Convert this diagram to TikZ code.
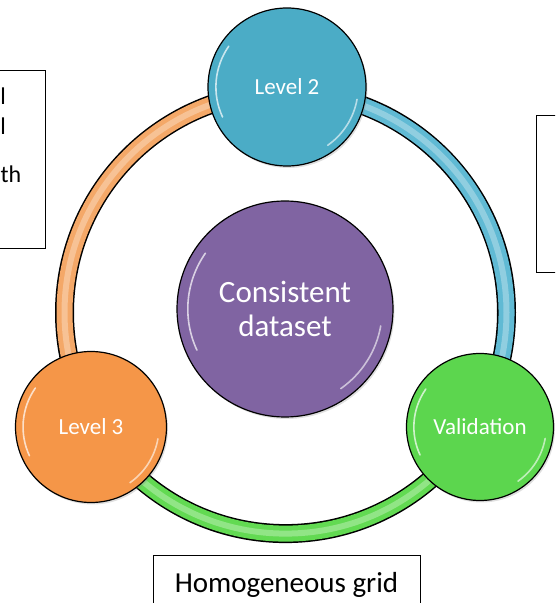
\documentclass[tikz,border=0pt]{standalone}
\usepackage{fontspec}
\setmainfont{Carlito}
\usetikzlibrary{shadows}

\definecolor{lvltwo}{RGB}{75,172,198}
\definecolor{lvlthree}{RGB}{245,150,72}
\definecolor{valid}{RGB}{92,214,78}
\definecolor{hubpurple}{RGB}{128,100,162}
\definecolor{ringblue}{RGB}{96,186,212}
\definecolor{ringorange}{RGB}{244,168,104}
\definecolor{ringgreen}{RGB}{98,218,82}

\tikzset{
  bubble/.style={circle,draw=black,line width=1.2pt,text=white,inner sep=0pt,
    drop shadow={opacity=.25,shadow xshift=1.5pt,shadow yshift=-2pt}},
  notebox/.style={draw=black,line width=1pt,fill=white,inner sep=0pt},
  notetext/.style={anchor=base east,inner sep=0pt,font=\fontsize{24}{28}\selectfont},
  ringpart/.style={line width=16pt},
  shine/.style={white,opacity=.3,line width=6pt},
}

% white glints on a bubble: #1 node, #2 radius
\newcommand\gloss[2]{%
  \draw[white,opacity=.7,line width=1.6pt,line cap=round]
    ([shift={(145:#2*.9)}]#1.center) arc (145:205:#2*.9);
  \draw[white,opacity=.6,line width=1.6pt,line cap=round]
    ([shift={(-10:#2*.9)}]#1.center) arc (-10:-55:#2*.9);
}

\begin{document}
\begin{tikzpicture}[x=1pt,y=1pt]
    \useasboundingbox (0,0) rectangle (555,603);
    \clip (0,0) rectangle (555,603);

    % side notes, partly outside the page
    \node[notebox,anchor=north east,minimum width=200,minimum height=178] (leftnote) at (46,533) {};
    \node[notebox,anchor=north west,minimum width=200,minimum height=157] (rightnote) at (536,488) {};
    \node[notebox,anchor=north west,minimum width=267,minimum height=90] (gridnote) at (153,48) {};
    \node[notetext] (noteA) at (6,498) {l};
    \node[notetext] (noteB) at (6,468) {l};
    \node[notetext,anchor=base west] (noteC) at (0.5,420) {th};
    \node[anchor=base,font=\fontsize{29}{33}\selectfont] (gridtext) at (286.5,10) {Homogeneous grid};

    % the ring
    \coordinate (hub) at (285.5,290.4);
    \draw[line width=19pt] (hub) circle (221);
    \draw[ringpart,ringorange] ([shift={(90:221)}]hub) arc (90:210:221);
    \draw[ringpart,ringgreen] ([shift={(210:221)}]hub) arc (210:330:221);
    \draw[ringpart,ringblue] ([shift={(330:221)}]hub) arc (330:450:221);
    \draw[shine] (hub) circle (221);

    % bubbles
    \node[bubble,fill=lvltwo,minimum size=158,font=\fontsize{23}{27}\selectfont] (lvl2) at (287,516) {Level 2};
    \node[bubble,fill=lvlthree,minimum size=151,font=\fontsize{23}{27}\selectfont] (lvl3) at (91,176) {Level 3};
    \node[bubble,fill=valid,minimum size=147,font=\fontsize{23}{27}\selectfont] (valid) at (480,176) {Validation};
    \node[bubble,fill=hubpurple,minimum size=216,align=center,
          font=\fontsize{31}{34}\selectfont] (core) at (285,294) {Consistent\\dataset};
    \gloss{lvl2}{79}
    \gloss{lvl3}{75.5}
    \gloss{valid}{73.5}
    \gloss{core}{108}
\end{tikzpicture}
\end{document}
